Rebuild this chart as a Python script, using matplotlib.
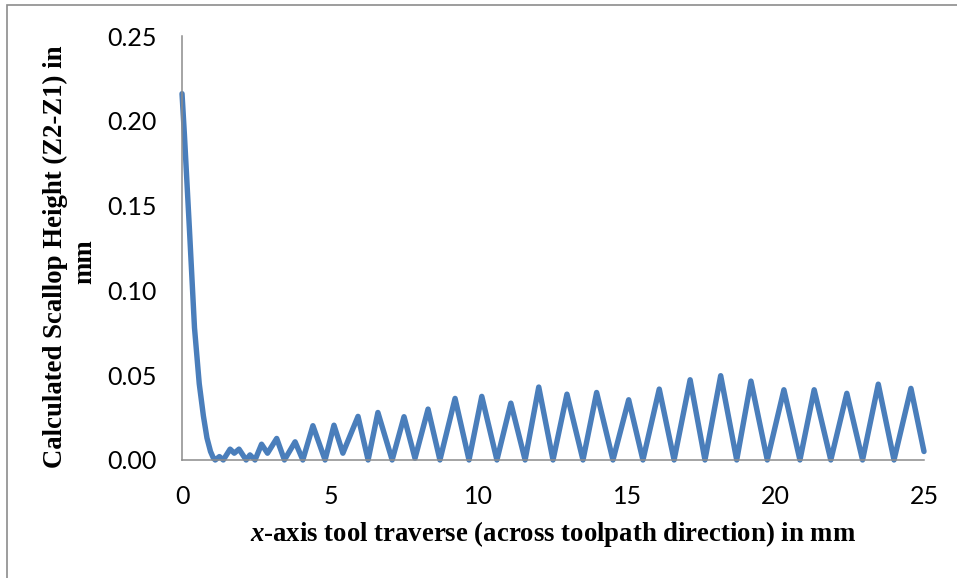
import numpy as np
import matplotlib
matplotlib.use("Agg")
import matplotlib.pyplot as plt
from matplotlib.patches import Rectangle

# traverse position (mm) and scallop height (mm): initial drop, then peak/trough pairs
x_mm = [0.00, 0.08, 0.25, 0.42, 0.58, 0.72, 0.84, 0.96, 1.06, 1.12,
        1.26, 1.39, 1.62, 1.76, 1.92, 2.16, 2.29, 2.46, 2.68, 2.88,
        3.19, 3.45, 3.81, 4.07, 4.41, 4.82, 5.12, 5.42, 5.93, 6.27,
        6.60, 7.08, 7.48, 7.85, 8.29, 8.69, 9.20, 9.67, 10.10, 10.61,
        11.08, 11.56, 12.02, 12.50, 12.97, 13.51, 13.97, 14.52, 15.05, 15.53,
        16.08, 16.58, 17.12, 17.62, 18.15, 18.69, 19.17, 19.72, 20.28, 20.82,
        21.30, 21.86, 22.40, 22.93, 23.46, 23.99, 24.56, 25.00]
height_mm = [0.216, 0.192, 0.136, 0.078, 0.045, 0.026, 0.013, 0.005, 0.001, 0.000,
             0.002, 0.000, 0.0064, 0.004, 0.0064, 0.000, 0.003, 0.000, 0.0093, 0.004,
             0.0127, 0.000, 0.0107, 0.000, 0.0202, 0.000, 0.0205, 0.004, 0.0257, 0.000,
             0.0280, 0.000, 0.0255, 0.001, 0.0300, 0.000, 0.0363, 0.000, 0.0375, 0.000,
             0.0335, 0.000, 0.0430, 0.000, 0.0388, 0.000, 0.0398, 0.000, 0.0355, 0.000,
             0.0418, 0.000, 0.0473, 0.000, 0.0497, 0.000, 0.0465, 0.000, 0.0414, 0.000,
             0.0414, 0.000, 0.0393, 0.000, 0.0447, 0.000, 0.0422, 0.005]

x_ticks = [0, 5, 10, 15, 20, 25]
y_ticks = [0.00, 0.05, 0.10, 0.15, 0.20, 0.25]

plt.rcParams['mathtext.fontset'] = 'custom'
plt.rcParams['mathtext.it'] = 'Liberation Serif:italic:bold'

fig = plt.figure(figsize=(9.57, 5.78), dpi=100)
ax = fig.add_axes([0.1902, 0.2042, 0.7753, 0.7335])

ax.plot(x_mm, height_mm, color='#4a7ebb', linewidth=3.9,
        solid_joinstyle='round', solid_capstyle='round', clip_on=False)

ax.set_xlim(0, 25)
ax.set_ylim(0, 0.25)
ax.set_xticks(x_ticks)
ax.set_yticks(y_ticks)
ax.set_yticklabels([f"{v:.2f}" for v in y_ticks])
ax.tick_params(length=0, labelsize=18)
ax.tick_params(axis='y', pad=18)
ax.tick_params(axis='x', pad=18)
for lab in ax.get_xticklabels() + ax.get_yticklabels():
    lab.set_fontfamily('Lato')

for side in ['top', 'right']:
    ax.spines[side].set_visible(False)
for side in ['left', 'bottom']:
    ax.spines[side].set_color('#8c8c8c')
    ax.spines[side].set_linewidth(1.1)

# axis titles
title_font = dict(fontsize=19.3, fontweight='bold', fontfamily='Liberation Serif')
fig.text(553 / 957, 1 - 534 / 578,
         r'$x$-axis tool traverse (across toolpath direction) in mm',
         ha='center', va='center', **title_font)
fig.text(55 / 957, 1 - 257 / 578, 'Calculated Scallop Height (Z2-Z1) in',
         ha='center', va='center', rotation=90, **title_font)
fig.text(85 / 957, 1 - 262 / 578, 'mm',
         ha='center', va='center', rotation=90, **title_font)

# outer frame
fig.patches.append(Rectangle((7.5 / 957, -0.05), 1.2, 1.05 - 5.5 / 578,
                             transform=fig.transFigure, fill=False,
                             edgecolor='#8c8c8c', linewidth=1.2))

fig.savefig('out.png', dpi=100)
